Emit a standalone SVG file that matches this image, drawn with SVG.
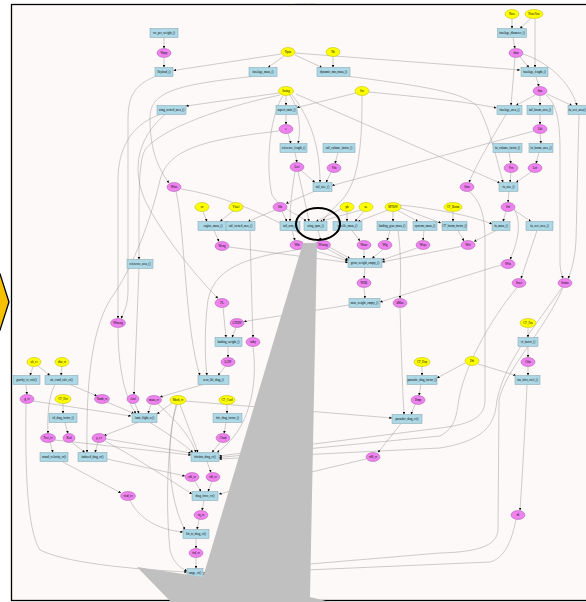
<svg xmlns="http://www.w3.org/2000/svg" width="586" height="602" viewBox="0 0 586 602">
<style>
.r{fill:#add8e6;stroke:#7f9fab;stroke-width:0.5}
.p{fill:#ee82ee;stroke:#a55aa5;stroke-width:0.5}
.y{fill:#ffff00;stroke:#b4b400;stroke-width:0.5}
text{font-family:"Liberation Serif",serif;font-size:3px;fill:#000;text-anchor:middle;dominant-baseline:central}
#edges path{fill:none;stroke:#9a9a9a;stroke-width:0.5;marker-end:url(#a)}
</style>
<defs>
<marker id="a" viewBox="0 0 10 10" refX="10" refY="5" markerWidth="2.6" markerHeight="2.6" markerUnits="userSpaceOnUse" orient="auto"><path d="M0,0 L10,5 L0,10z" fill="#000"/></marker>
</defs>
<rect x="0" y="0" width="586" height="602" fill="#fff"/>
<rect x="11.5" y="4.5" width="590" height="596" fill="#fdf9f9" stroke="#000" stroke-width="1.3"/>
<text x="305" y="2.5" style="font-size:2.2px;fill:#999">aircraft sizing workflow</text>
<polygon points="-12,274 0,274 9,302 0,330 -12,330" fill="#f7c100" stroke="#000" stroke-width="1.3"/>

<g id="edges">
<path d="M164,37.5 L164,48.5"/>
<path d="M164,57.5 L164,67.5"/>
<path d="M281,54 L173.5,70.5"/>
<path d="M284,56 L268,67.5"/>
<path d="M295,55 L322,67.5"/>
<path d="M295,53 L520,70"/>
<path d="M333,56.5 L333,67.5"/>
<path d="M155,76.5 C135,85 128,95 128,120 L128,290 C128,305 124,312 121,318.5"/>
<path d="M252,76.5 C175,85 150,92 150,118 C150,150 158,168 169,183"/>
<path d="M350,76.5 C420,86 470,92 480,110 C490,130 497,160 503,182.5"/>
<path d="M160,114.5 C130,125 118,150 118,180 L118,318.5"/>
<path d="M279,93 L186,106"/>
<path d="M286,95.5 L286,105.5"/>
<path d="M280,95 C200,112 155,135 145,150 C138,162 139,200 139,259.5"/>
<path d="M290,95 C300,110 301,130 298,143.5"/>
<path d="M292,95 C312,120 320,150 320,182.5"/>
<path d="M296,94 L500,183"/>
<path d="M283,95.5 C268,120 266,170 272,195 C280,210 300,214 306,221.5"/>
<path d="M286,114.5 L286,124.5"/>
<path d="M288,133.5 L291,143.5"/>
<path d="M279,131 C200,140 168,150 160,180 C152,215 135,265 110,300 C92,330 86,380 87,452.5"/>
<path d="M295,152.5 L297,162.5"/>
<path d="M302,171 L315,182.5"/>
<path d="M298,171.5 C302,190 306,205 309,221.5"/>
<path d="M295,171.5 C292,190 290,205 290,221.5"/>
<path d="M338,152.5 L335,163.5"/>
<path d="M331,172.5 L326,182.5"/>
<path d="M356,93 L297,107.5"/>
<path d="M362,95.5 C362,140 360,180 342,200 C332,210 326,215 323,221.5"/>
<path d="M369,92 C420,97 470,102 496.5,108"/>
<path d="M512,18.5 L512,28.5"/>
<path d="M531,18 L520,28.5"/>
<path d="M535,18.5 L535,67.5"/>
<path d="M513,37.5 L515,48.5"/>
<path d="M520,57 L529,67.5"/>
<path d="M515,57.5 L511,105.5"/>
<path d="M523,54 C548,62 570,82 577,105.5"/>
<path d="M536,76.5 L539,86.5"/>
<path d="M535,95 L516,105.5"/>
<path d="M540,95.5 L540,105.5"/>
<path d="M547,94 L572,105.5"/>
<path d="M546,95 C556,103 560,120 560,150 L560,262 C560,270 562,275 563,278.5"/>
<path d="M579,114.5 C578,150 577,200 576,240 C575,260 571,272 568,278.5"/>
<path d="M506,114.5 C492,138 476,165 469,182.5"/>
<path d="M540,114.5 L540,124.5"/>
<path d="M540,133.5 L541,143.5"/>
<path d="M534,131 L332,185.5"/>
<path d="M509,152.5 L511,163.5"/>
<path d="M539,152.5 L536,163.5"/>
<path d="M511,172.5 L510,182.5"/>
<path d="M531,172 L516,182.5"/>
<path d="M509,191.5 L508,202.5"/>
<path d="M506,211.5 L503,221.5"/>
<path d="M514,210 L531,221.5"/>
<path d="M514,209 C522,222 518,242 510,259.5"/>
<path d="M496,230.5 L474,241.5"/>
<path d="M461,246.5 L382,262"/>
<path d="M458,230.5 L464,241"/>
<path d="M453,211.5 L453,221.5"/>
<path d="M537,230.5 L521,278.5"/>
<path d="M501,265 L380,302"/>
<path d="M469,191.5 C480,200 485,215 485,240 L485,400 C485,415 475,424 440,428 L219,456"/>
<path d="M517,287.5 C490,320 462,370 458,405 C456,420 452,430 440,436 L219,457.5"/>
<path d="M562,287.5 C540,320 505,360 497,400 C495,420 490,440 440,448 L219,459"/>
<path d="M563,287.5 C545,330 505,370 499,400 L498,530 C497,545 480,552 440,553 L203,573"/>
<path d="M400,205 C430,208 470,215 492,224"/>
<path d="M516,519.5 C512,540 505,558 490,562 L203,574.5"/>
<path d="M314,191.5 L286,203.5"/>
<path d="M282,211.5 L287,221.5"/>
<path d="M275,210 L248,221.5"/>
<path d="M203,211.5 L207,221.5"/>
<path d="M233,211 L220,221.5"/>
<path d="M214,230.5 L219,241.5"/>
<path d="M250,230.5 C251,270 252,310 253,337.5"/>
<path d="M292,230.5 L295,240.5"/>
<path d="M318,230.5 L321,240.5"/>
<path d="M352,230.5 L360,241"/>
<path d="M390,230.5 L387,240.5"/>
<path d="M424,230.5 L423,240.5"/>
<path d="M347,211.5 L347,221.5"/>
<path d="M364,211 L355,221.5"/>
<path d="M388,210 L358,221.5"/>
<path d="M393,211.5 L393,221.5"/>
<path d="M398,210.5 L418,221.5"/>
<path d="M361,210 L320,221.5"/>
<path d="M341,209 L316,221.5"/>
<path d="M401,208 L441,223"/>
<path d="M303,247 L348,261"/>
<path d="M330,247.5 L350,258.5"/>
<path d="M364,249.5 L364,258.5"/>
<path d="M383,249.5 L372,258.5"/>
<path d="M417,248 L382,260"/>
<path d="M229,247 L348,262.5"/>
<path d="M181,189 C250,200 300,235 348,260"/>
<path d="M365,267.5 L364,278.5"/>
<path d="M364,287.5 L365,298.5"/>
<path d="M349,305 L244,321.5"/>
<path d="M398,230.5 C401,250 401,280 400,298.5"/>
<path d="M400,307.5 C401,340 402,380 404,414.5"/>
<path d="M422,366.5 L422,375.5"/>
<path d="M421,384.5 L419,395.5"/>
<path d="M415,404.5 L411,414.5"/>
<path d="M401,423.5 L378,452.5"/>
<path d="M366,459 L219,494"/>
<path d="M185,401 L392,418"/>
<path d="M478,364 L516,375.5"/>
<path d="M465,363 L437,378"/>
<path d="M528,327.5 L528,337.5"/>
<path d="M528,346.5 L528,357.5"/>
<path d="M528,366.5 L528,375.5"/>
<path d="M527,384.5 C525,430 522,480 520,510.5"/>
<path d="M223,307.5 L226,337.5"/>
<path d="M236,327.5 L232,337.5"/>
<path d="M228,346.5 L228,357.5"/>
<path d="M225,366.5 L218,375.5"/>
<path d="M165,114.5 C135,140 130,175 150,210 C170,245 200,280 218,298.5"/>
<path d="M316,247 C260,255 215,262 208,300 C204,330 205,360 207,375.5"/>
<path d="M176,191.5 C185,230 185,330 200,375.5"/>
<path d="M253,346.5 C258,385 250,430 217,452.5"/>
<path d="M203,384.5 L160,397"/>
<path d="M139,268.5 L134,394.5"/>
<path d="M33,366.5 L30,375.5"/>
<path d="M38,366 L50,375.5"/>
<path d="M62,366.5 L61,375.5"/>
<path d="M26,384.5 L27,394.5"/>
<path d="M70,384.5 L97,396"/>
<path d="M55,384.5 C49,395 47,415 48,433.5"/>
<path d="M33,401 L131,416"/>
<path d="M26,403.5 C25,470 27,530 40,550 C70,565 150,570 187,572"/>
<path d="M63,403.5 L63,413.5"/>
<path d="M65,422.5 L68,433.5"/>
<path d="M50,442.5 L53,452.5"/>
<path d="M55,440 L191,455"/>
<path d="M72,442.5 L85,452.5"/>
<path d="M98,442.5 L95,452.5"/>
<path d="M106,439 L191,453"/>
<path d="M105,441 C140,460 170,480 192,494"/>
<path d="M107,459 L185,476"/>
<path d="M62,461.5 L121,493"/>
<path d="M130,500.5 C140,520 160,530 183,532"/>
<path d="M107,402 L134,413.5"/>
<path d="M135,403.5 L139,413.5"/>
<path d="M151,404.5 L148,413.5"/>
<path d="M172,403 L157,414"/>
<path d="M138,422.5 L104,435.5"/>
<path d="M150,422.5 C170,435 185,445 193,452.5"/>
<path d="M118,327.5 C118,370 126,400 136,413.5"/>
<path d="M180,404.5 L198,452.5"/>
<path d="M176,404.5 C168,440 165,500 170,550 C173,562 180,568 187,571"/>
<path d="M177,404.5 C165,440 168,500 185,529.5"/>
<path d="M227,404.5 L227,413.5"/>
<path d="M226,422.5 L224,433.5"/>
<path d="M220,442.5 L212,452.5"/>
<path d="M158,404 C175,420 190,435 196,452.5"/>
<path d="M207,461.5 L211,472.5"/>
<path d="M195,481.5 L201,491.5"/>
<path d="M212,481.5 L208,491.5"/>
<path d="M204,500.5 L202,510.5"/>
<path d="M199,519.5 L197,529.5"/>
<path d="M196,538.5 L196,548.5"/>
<path d="M196,557.5 L196,568.5"/>
</g>

<!-- inputs (yellow) -->
<g id="Y1"><ellipse class="y" cx="512" cy="14" rx="7" ry="4.5"/><text x="512" y="14">Nose</text></g>
<g id="Y2"><ellipse class="y" cx="534" cy="14" rx="9" ry="4.5"/><text x="534" y="14">NoseFine</text></g>
<g id="Y3"><ellipse class="y" cx="288" cy="52" rx="7" ry="4.5"/><text x="288" y="52">Npax</text></g>
<g id="Y4"><ellipse class="y" cx="333" cy="52" rx="7" ry="4.5"/><text x="333" y="52">Nh</text></g>
<g id="Y5"><ellipse class="y" cx="286" cy="91" rx="7.5" ry="4.5"/><text x="286" y="91">Swing</text></g>
<g id="Y6"><ellipse class="y" cx="362" cy="91" rx="7" ry="4.5"/><text x="362" y="91">Sw</text></g>
<g id="Y7"><ellipse class="y" cx="202" cy="207" rx="7" ry="4.5"/><text x="202" y="207">xv</text></g>
<g id="Y8"><ellipse class="y" cx="236" cy="207" rx="7" ry="4.5"/><text x="236" y="207">Vfuel</text></g>
<g id="Y9"><ellipse class="y" cx="347" cy="207" rx="7" ry="4.5"/><text x="347" y="207">pb</text></g>
<g id="Y10"><ellipse class="y" cx="366" cy="207" rx="7" ry="4.5"/><text x="366" y="207">ne</text></g>
<g id="Y11"><ellipse class="y" cx="393" cy="207" rx="8" ry="4.5"/><text x="393" y="207">MTOW</text></g>
<g id="Y12"><ellipse class="y" cx="453" cy="207" rx="9" ry="4.5"/><text x="453" y="207">CF_Boom</text></g>
<g id="Y13"><ellipse class="y" cx="528" cy="323" rx="8" ry="4.5"/><text x="528" y="323">CF_Fus</text></g>
<g id="Y14"><ellipse class="y" cx="472" cy="361" rx="7" ry="4.5"/><text x="472" y="361">Dff</text></g>
<g id="Y15"><ellipse class="y" cx="422" cy="362" rx="8" ry="4.5"/><text x="422" y="362">CF_Dcp</text></g>
<g id="Y16"><ellipse class="y" cx="34" cy="362" rx="7" ry="4.5"/><text x="34" y="362">alt_cr</text></g>
<g id="Y17"><ellipse class="y" cx="62" cy="362" rx="7" ry="4.5"/><text x="62" y="362">dist_cr</text></g>
<g id="Y18"><ellipse class="y" cx="63" cy="399" rx="8" ry="4.5"/><text x="63" y="399">CF_Dcr</text></g>
<g id="Y19"><ellipse class="y" cx="178" cy="400" rx="8" ry="4.5"/><text x="178" y="400">Mach_cr</text></g>
<g id="Y20"><ellipse class="y" cx="227" cy="400" rx="8" ry="4.5"/><text x="227" y="400">CF_Cwd</text></g>

<!-- variables (pink) -->
<g id="P1"><ellipse class="p" cx="164" cy="53" rx="7" ry="4.5"/><text x="164" y="53">Wpay</text></g>
<g id="P2"><ellipse class="p" cx="516" cy="53" rx="7" ry="4.5"/><text x="516" y="53">dfus</text></g>
<g id="P3"><ellipse class="p" cx="540" cy="91" rx="7" ry="4.5"/><text x="540" y="91">lfus</text></g>
<g id="P4"><ellipse class="p" cx="286" cy="129" rx="7" ry="4.5"/><text x="286" y="129">e</text></g>
<g id="P5"><ellipse class="p" cx="540" cy="129" rx="7" ry="4.5"/><text x="540" y="129">Lbt</text></g>
<g id="P6"><ellipse class="p" cx="297" cy="167" rx="7" ry="4.5"/><text x="297" y="167">Lref</text></g>
<g id="P7"><ellipse class="p" cx="334" cy="168" rx="7" ry="4.5"/><text x="334" y="168">Vht</text></g>
<g id="P8"><ellipse class="p" cx="511" cy="168" rx="7" ry="4.5"/><text x="511" y="168">Vvt</text></g>
<g id="P9"><ellipse class="p" cx="535" cy="168" rx="7" ry="4.5"/><text x="535" y="168">Lvt</text></g>
<g id="P10"><ellipse class="p" cx="174" cy="187" rx="7" ry="4.5"/><text x="174" y="187">Wfus</text></g>
<g id="P11"><ellipse class="p" cx="467" cy="187" rx="7" ry="4.5"/><text x="467" y="187">Sfus</text></g>
<g id="P12"><ellipse class="p" cx="508" cy="207" rx="7" ry="4.5"/><text x="508" y="207">Svt</text></g>
<g id="P13"><ellipse class="p" cx="280" cy="207" rx="7" ry="4.5"/><text x="280" y="207">Sht</text></g>
<g id="P14"><ellipse class="p" cx="222" cy="246" rx="7" ry="4.5"/><text x="222" y="246">Weng</text></g>
<g id="P15"><ellipse class="p" cx="297" cy="245" rx="7" ry="4.5"/><text x="297" y="245">Wht</text></g>
<g id="P16"><ellipse class="p" cx="323" cy="245" rx="7.5" ry="4.5"/><text x="323" y="245">Wwing</text></g>
<g id="P17"><ellipse class="p" cx="364" cy="245" rx="7" ry="4.5"/><text x="364" y="245">Wnac</text></g>
<g id="P18"><ellipse class="p" cx="385" cy="245" rx="7" ry="4.5"/><text x="385" y="245">Wlg</text></g>
<g id="P19"><ellipse class="p" cx="423" cy="245" rx="7" ry="4.5"/><text x="423" y="245">Wsys</text></g>
<g id="P20"><ellipse class="p" cx="468" cy="245" rx="7" ry="4.5"/><text x="468" y="245">Wvt</text></g>
<g id="P21"><ellipse class="p" cx="508" cy="264" rx="7" ry="4.5"/><text x="508" y="264">Wfu</text></g>
<g id="P22"><ellipse class="p" cx="364" cy="283" rx="7" ry="4.5"/><text x="364" y="283">WOE</text></g>
<g id="P23"><ellipse class="p" cx="519" cy="283" rx="7" ry="4.5"/><text x="519" y="283">Swet</text></g>
<g id="P24"><ellipse class="p" cx="565" cy="283" rx="7" ry="4.5"/><text x="565" y="283">Swfus</text></g>
<g id="P25"><ellipse class="p" cx="222" cy="303" rx="7" ry="4.5"/><text x="222" y="303">FL</text></g>
<g id="P26"><ellipse class="p" cx="400" cy="303" rx="7" ry="4.5"/><text x="400" y="303">bMax</text></g>
<g id="P27"><ellipse class="p" cx="118" cy="323" rx="7.5" ry="4.5"/><text x="118" y="323">Wfueng</text></g>
<g id="P28"><ellipse class="p" cx="237" cy="323" rx="7" ry="4.5"/><text x="237" y="323">GTOW</text></g>
<g id="P29"><ellipse class="p" cx="253" cy="342" rx="7" ry="4.5"/><text x="253" y="342">wdry</text></g>
<g id="P30"><ellipse class="p" cx="228" cy="362" rx="7" ry="4.5"/><text x="228" y="362">LGW</text></g>
<g id="P31"><ellipse class="p" cx="528" cy="362" rx="7" ry="4.5"/><text x="528" y="362">Cffu</text></g>
<g id="P32"><ellipse class="p" cx="27" cy="399" rx="7" ry="4.5"/><text x="27" y="399">g_cr</text></g>
<g id="P33"><ellipse class="p" cx="102" cy="399" rx="7.5" ry="4.5"/><text x="102" y="399">Tamb_cr</text></g>
<g id="P34"><ellipse class="p" cx="133" cy="399" rx="6" ry="4.5"/><text x="133" y="399">Aref</text></g>
<g id="P35"><ellipse class="p" cx="154" cy="400" rx="7.5" ry="4.5"/><text x="154" y="400">mass_cr</text></g>
<g id="P36"><ellipse class="p" cx="418" cy="400" rx="7" ry="4.5"/><text x="418" y="400">Dmp</text></g>
<g id="P37"><ellipse class="p" cx="48" cy="438" rx="7.5" ry="4.5"/><text x="48" y="438">Tref_cr</text></g>
<g id="P38"><ellipse class="p" cx="69" cy="438" rx="6" ry="4.5"/><text x="69" y="438">Kcd</text></g>
<g id="P39"><ellipse class="p" cx="99" cy="438" rx="7" ry="4.5"/><text x="99" y="438">ρ_cr</text></g>
<g id="P40"><ellipse class="p" cx="223" cy="438" rx="7" ry="4.5"/><text x="223" y="438">Cfwd</text></g>
<g id="P41"><ellipse class="p" cx="373" cy="457" rx="7" ry="4.5"/><text x="373" y="457">cd0_cr</text></g>
<g id="P42"><ellipse class="p" cx="192" cy="477" rx="7" ry="4.5"/><text x="192" y="477">cdi_cr</text></g>
<g id="P43"><ellipse class="p" cx="213" cy="477" rx="7" ry="4.5"/><text x="213" y="477">cdf_cr</text></g>
<g id="P44"><ellipse class="p" cx="128" cy="496" rx="7.5" ry="4.5"/><text x="128" y="496">visd_cr</text></g>
<g id="P45"><ellipse class="p" cx="201" cy="515" rx="7" ry="4.5"/><text x="201" y="515">cq_cr</text></g>
<g id="P46"><ellipse class="p" cx="518" cy="515" rx="7" ry="4.5"/><text x="518" y="515">dt</text></g>
<g id="P47"><ellipse class="p" cx="196" cy="553" rx="7" ry="4.5"/><text x="196" y="553">fsd_cr</text></g>

<!-- functions (blue) -->
<g id="R1"><rect class="r" x="150" y="28.5" width="28" height="9"/><text x="164" y="33">cw_per_weight_()</text></g>
<g id="R2"><rect class="r" x="155" y="67.5" width="18" height="9"/><text x="164" y="72">Payload_()</text></g>
<g id="R3"><rect class="r" x="249" y="67.5" width="28" height="9"/><text x="263" y="72">fuselage_mass_()</text></g>
<g id="R4"><rect class="r" x="317" y="67.5" width="33" height="9"/><text x="333.5" y="72">dynamic_tms_mass_()</text></g>
<g id="R5"><rect class="r" x="497.5" y="28.5" width="29" height="9"/><text x="512" y="33">fuselage_diameter_()</text></g>
<g id="R6"><rect class="r" x="521" y="67.5" width="27" height="9"/><text x="534.5" y="72">fuselage_length_()</text></g>
<g id="R7"><rect class="r" x="157" y="105.5" width="29" height="9"/><text x="171.5" y="110">wing_wetted_area_()</text></g>
<g id="R8"><rect class="r" x="276" y="105.5" width="21" height="9"/><text x="286.5" y="110">aspect_ratio_()</text></g>
<g id="R9"><rect class="r" x="280" y="143.5" width="27" height="9"/><text x="293.5" y="148">reference_length_()</text></g>
<g id="R10"><rect class="r" x="323" y="143.5" width="32" height="9"/><text x="339" y="148">tail_volume_factor_()</text></g>
<g id="R11"><rect class="r" x="313" y="182.5" width="19" height="9"/><text x="322.5" y="187">tail_size_()</text></g>
<g id="R12"><rect class="r" x="497" y="105.5" width="25" height="9"/><text x="509.5" y="110">fuselage_area_()</text></g>
<g id="R13"><rect class="r" x="527" y="105.5" width="26" height="9"/><text x="540" y="110">tail_boom_area_()</text></g>
<g id="R14"><rect class="r" x="568" y="105.5" width="28" height="9"/><text x="577" y="110">fu_wet_area()</text></g>
<g id="R15"><rect class="r" x="493" y="143.5" width="29" height="9"/><text x="507.5" y="148">fu_volume_factor_()</text></g>
<g id="R16"><rect class="r" x="529" y="143.5" width="24" height="9"/><text x="541" y="148">fu_boom_area_()</text></g>
<g id="R17"><rect class="r" x="499" y="182.5" width="19" height="9"/><text x="508.5" y="187">fu_size_()</text></g>
<g id="R18"><rect class="r" x="198" y="221.5" width="30" height="9"/><text x="213" y="226">engine_mass_()</text></g>
<g id="R19"><rect class="r" x="226" y="221.5" width="29" height="9"/><text x="240.5" y="226">tail_wetted_area_()</text></g>
<g id="R20"><rect class="r" x="280" y="221.5" width="20" height="9"/><text x="290" y="226">tail_arm_()</text></g>
<g id="R21"><rect class="r" x="304" y="221.5" width="23" height="9"/><text x="315.5" y="226">wing_span_()</text></g>
<g id="R22"><rect class="r" x="333" y="221.5" width="29" height="9"/><text x="347.5" y="226">nacelle_mass_()</text></g>
<g id="R23"><rect class="r" x="377" y="221.5" width="30" height="9"/><text x="392" y="226">landing_gear_mass_()</text></g>
<g id="R24"><rect class="r" x="413" y="221.5" width="24" height="9"/><text x="425" y="226">systems_mass_()</text></g>
<g id="R25"><rect class="r" x="442" y="221.5" width="25" height="9"/><text x="454.5" y="226">CF_boom_factor_()</text></g>
<g id="R26"><rect class="r" x="492" y="221.5" width="18" height="9"/><text x="501" y="226">fu_mass_()</text></g>
<g id="R27"><rect class="r" x="526" y="221.5" width="27" height="9"/><text x="539.5" y="226">fu_wet_area_()</text></g>
<g id="R28"><rect class="r" x="127" y="259.5" width="26" height="9"/><text x="140" y="264">reference_area_()</text></g>
<g id="R29"><rect class="r" x="348" y="258.5" width="34" height="9"/><text x="365" y="263">gross_weight_empty_()</text></g>
<g id="R30"><rect class="r" x="349" y="298.5" width="31" height="9"/><text x="364.5" y="303">max_weight_empty_()</text></g>
<g id="R31"><rect class="r" x="215" y="337.5" width="27" height="9"/><text x="228.5" y="342">landing_weight_()</text></g>
<g id="R32"><rect class="r" x="198" y="375.5" width="31" height="9"/><text x="213.5" y="380">zero_lift_drag_()</text></g>
<g id="R33"><rect class="r" x="407" y="375.5" width="30" height="9"/><text x="422" y="380">parasitic_drag_factor_()</text></g>
<g id="R34"><rect class="r" x="518" y="337.5" width="20" height="9"/><text x="528" y="342">cf_factor_()</text></g>
<g id="R35"><rect class="r" x="515" y="375.5" width="25" height="9"/><text x="527.5" y="380">fus_frict_coef_()</text></g>
<g id="R36"><rect class="r" x="13" y="375.5" width="27" height="9"/><text x="26.5" y="380">gravity_cr_calc()</text></g>
<g id="R37"><rect class="r" x="45" y="375.5" width="33" height="9"/><text x="61.5" y="380">air_cond_calc_cr()</text></g>
<g id="R38"><rect class="r" x="49" y="413.5" width="28" height="9"/><text x="63" y="418">cd_drag_factor_()</text></g>
<g id="R39"><rect class="r" x="132" y="413.5" width="25" height="9"/><text x="144.5" y="418">lamf_flight_re()</text></g>
<g id="R40"><rect class="r" x="40" y="452.5" width="28" height="9"/><text x="54" y="457">sound_velocity_cr()</text></g>
<g id="R41"><rect class="r" x="78" y="452.5" width="29" height="9"/><text x="92.5" y="457">induced_drag_cr()</text></g>
<g id="R42"><rect class="r" x="213" y="413.5" width="29" height="9"/><text x="227.5" y="418">fric_drag_factor_()</text></g>
<g id="R43"><rect class="r" x="191" y="452.5" width="28" height="9"/><text x="205" y="457">friction_drag_cr()</text></g>
<g id="R44"><rect class="r" x="192" y="491.5" width="26" height="9"/><text x="205" y="496">drag_force_cr()</text></g>
<g id="R45"><rect class="r" x="183" y="529.5" width="26" height="9"/><text x="196" y="534">lift_to_drag_cr()</text></g>
<g id="R46"><rect class="r" x="187" y="568.5" width="16" height="9"/><text x="195" y="573">range_cr()</text></g>
<g id="R47"><rect class="r" x="392" y="414.5" width="30" height="9"/><text x="407" y="419">parasitic_drag_cr()</text></g>

<!-- highlight overlay -->
<polygon points="303,243 317,243 310,597 334,603 172,603 137,567 203,577" fill="#c0c0c0"/>
<ellipse cx="318" cy="224" rx="22" ry="16" fill="none" stroke="#000" stroke-width="2"/>
</svg>
